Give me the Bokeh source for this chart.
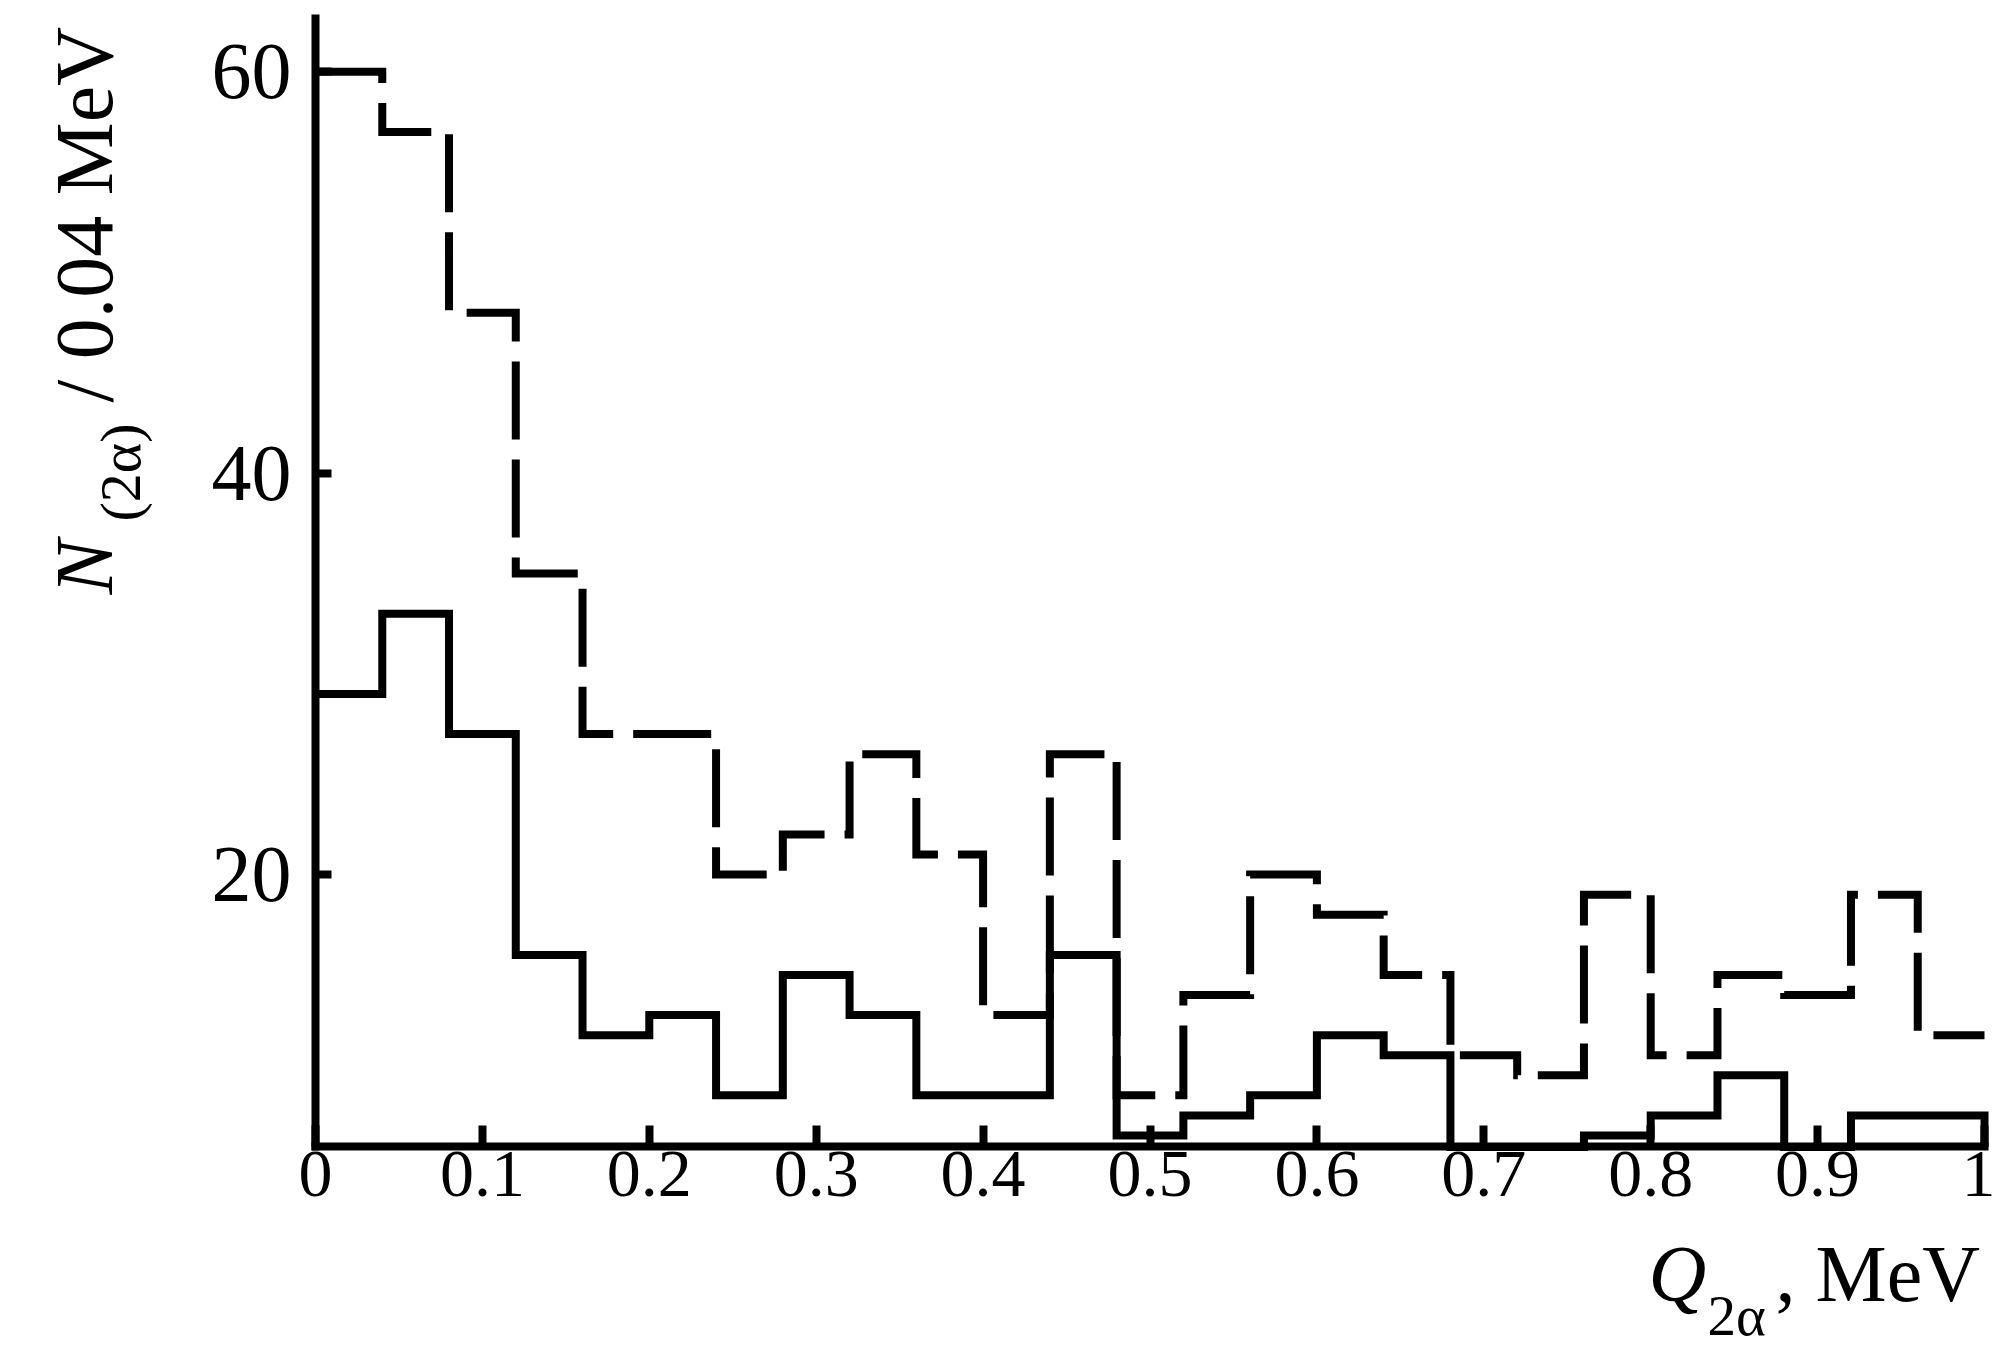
from bokeh.plotting import figure
from bokeh.models import Range1d, FixedTicker
from bokeh.core.properties import value
from bokeh.embed import file_html
from bokeh.resources import INLINE
from math import pi

# ---- data ----
bin_edges = [round(0.04 * i, 2) for i in range(26)]
dashed_counts = [60, 57, 48, 35, 27, 27, 20, 22, 26, 21, 13, 26, 9, 14, 20, 18, 15, 11, 10, 19, 11, 15, 14, 19, 12]
solid_counts = [29, 33, 27, 16, 12, 13, 9, 15, 13, 9, 9, 16, 7, 8, 9, 12, 11, 6, 6, 7, 8, 10, 6, 8, 8]
x_ticks = [0, 0.1, 0.2, 0.3, 0.4, 0.5, 0.6, 0.7, 0.8, 0.9, 1.0]
x_tick_labels = ["0", "0.1", "0.2", "0.3", "0.4", "0.5", "0.6", "0.7", "0.8", "0.9", "1"]
y_ticks = [20, 40, 60]
y_tick_labels = ["20", "40", "60"]

X_MIN, X_MAX = 0.0, 1.0          # x-axis extent
Y_MIN, Y_MAX = 6.43, 62.65       # y-axis extent (x-axis crosses at Y_MIN)
SERIF = "Liberation Serif"

W, H = 1995, 1347
# pixel geometry of the plot area (page pixels)
PX_X0, PX_PER_X = 315.0, 1669.0
PY_Y0, PX_PER_Y = 1275.5, 20.07
BASELINE_FIX = 0.31  # fraction of font size the text glyph sits below its anchor


def px_to_data(px, py):
    return (px - PX_X0) / PX_PER_X, (PY_Y0 - py) / PX_PER_Y


x0, y1 = px_to_data(0, 0)
x1, y0 = px_to_data(W, H)


def step_path(edges, vals, floor, drop_end=False):
    xs, ys = [], []
    for i, v in enumerate(vals):
        v = max(v, floor)
        xs += [edges[i], edges[i + 1]]
        ys += [v, v]
    if drop_end:
        xs.append(edges[-1])
        ys.append(floor)
    return xs, ys


p = figure(width=W, height=H, output_backend="svg", toolbar_location=None,
           x_range=Range1d(x0, x1), y_range=Range1d(y0, y1),
           min_border_left=0, min_border_right=0, min_border_top=0, min_border_bottom=0)
p.outline_line_color = None
p.grid.visible = False
p.background_fill_color = "white"
p.border_fill_color = "white"

dx, dy = step_path(bin_edges, dashed_counts, Y_MIN)
p.line(dx, dy, line_color="black", line_width=8, line_dash="78 20", line_join="miter")
sx, sy = step_path(bin_edges, solid_counts, Y_MIN, drop_end=True)
p.line(sx, sy, line_color="black", line_width=8, line_join="miter")

# axes (library axes, crossing at fixed locations)
xa = p.xaxis[0]
xa.fixed_location = Y_MIN
xa.bounds = (X_MIN, X_MAX)
xa.ticker = FixedTicker(ticks=x_ticks)
xa.major_label_overrides = {t: l for t, l in zip(x_ticks, x_tick_labels)}
xa.axis_line_width = 8
xa.axis_line_cap = "square"
xa.major_tick_line_width = 8
xa.major_tick_in = 21
xa.major_tick_out = 0
xa.minor_tick_line_color = None
xa.major_label_text_font = SERIF
xa.major_label_text_font_size = "68px"
xa.major_label_text_color = "black"
xa.major_label_standoff = 5

ya = p.yaxis[0]
ya.fixed_location = X_MIN
ya.bounds = (Y_MIN, Y_MAX)
ya.ticker = FixedTicker(ticks=y_ticks)
ya.major_label_overrides = {t: l for t, l in zip(y_ticks, y_tick_labels)}
ya.axis_line_width = 8
ya.axis_line_cap = "square"
ya.major_tick_line_width = 8
ya.major_tick_in = 16
ya.major_tick_out = 0
ya.minor_tick_line_color = None
ya.major_label_text_font = SERIF
ya.major_label_text_font_size = "80px"
ya.major_label_text_color = "black"
ya.major_label_standoff = 24


def add_text(text, px, py, size_px, style="normal", rotated=False):
    fix = BASELINE_FIX * size_px
    if rotated:
        px -= fix
    else:
        py -= fix
    x, y = px_to_data(px, py)
    p.text(x=[x], y=[y], text=[text], angle=(pi / 2 if rotated else 0.0),
           text_font=value(SERIF), text_font_size=f"{size_px}px", text_font_style=style,
           text_color="black", text_align="left", text_baseline="alphabetic")


# y-axis title (rotated)
add_text("N", 109, 594, 82, "italic", rotated=True)
add_text("(2α)", 138, 521, 58, "normal", rotated=True)
add_text("/ 0.04 MeV", 109, 402, 82, "normal", rotated=True)

# x-axis title
add_text("Q", 1648, 1298, 80, "italic")
add_text("2α", 1707, 1333, 57, "normal")
add_text(", MeV", 1775, 1298, 80, "normal")

open("out.html", "w").write(file_html(p, INLINE))
